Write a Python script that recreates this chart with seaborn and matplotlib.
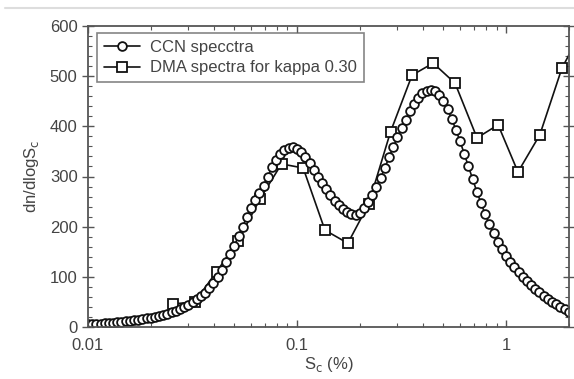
import numpy as np
import pandas as pd
import seaborn as sns
import matplotlib.pyplot as plt
from matplotlib.lines import Line2D
from matplotlib.ticker import FixedLocator, LogLocator, MultipleLocator, NullFormatter

# CCN spectrum: log grid of 0.02 decades from 0.01 % to 2 %
mantissa = [1.000, 1.047, 1.096, 1.148, 1.202, 1.259, 1.318, 1.380, 1.445, 1.514,
            1.585, 1.660, 1.738, 1.820, 1.905, 1.995, 2.089, 2.188, 2.291, 2.399,
            2.512, 2.630, 2.754, 2.884, 3.020, 3.162, 3.311, 3.467, 3.631, 3.802,
            3.981, 4.169, 4.365, 4.571, 4.786, 5.012, 5.248, 5.495, 5.754, 6.026,
            6.310, 6.607, 6.918, 7.244, 7.586, 7.943, 8.318, 8.710, 9.120, 9.550]
ccn_s = [m * d for d in (0.01, 0.1) for m in mantissa] + [m for m in mantissa[:16]]
ccn_n = [5, 5, 6, 6, 7, 8, 8, 9, 10, 11,
         12, 13, 14, 15, 17, 18, 20, 22, 24, 26,
         29, 32, 36, 40, 44, 49, 55, 61, 68, 77,
         87, 100, 114, 129, 145, 162, 181, 200, 220, 238,
         253, 267, 282, 300, 318, 333, 345, 353, 357, 358,
         355, 348, 338, 326, 313, 300, 287, 275, 263, 252,
         243, 235, 229, 225, 224, 228, 237, 250, 264, 280,
         297, 317, 338, 358, 378, 396, 413, 430, 445, 457,
         466, 471, 473, 470, 462, 450, 434, 415, 393, 370,
         345, 320, 295, 270, 247, 225, 205, 187, 170, 155,
         142, 130, 119, 109, 100, 92, 84, 76, 69, 62,
         56, 50, 45, 40, 35, 30]

# DMA spectrum for kappa 0.30
dma_s = [0.0255, 0.0324, 0.0412, 0.0523, 0.0664, 0.0843, 0.107, 0.136, 0.175,
         0.22, 0.28, 0.355, 0.448, 0.57, 0.726, 0.916, 1.14, 1.45, 1.85, 2.3]
dma_n = [46, 50, 110, 172, 255, 325, 317, 193, 167,
         245, 389, 502, 526, 486, 377, 403, 309, 383, 516, 590]

ccn = pd.DataFrame({"S": ccn_s, "n": ccn_n})
dma = pd.DataFrame({"S": dma_s, "n": dma_n})

sns.set_style("ticks")
plt.rcParams["font.family"] = ["Liberation Sans", "DejaVu Sans"]
txt = "#444444"

fig = plt.figure(figsize=(5.74, 3.79), dpi=100)
ax = fig.add_axes([88 / 574, 1 - 327 / 379, 481 / 574, 301 / 379])

sns.lineplot(data=dma, x="S", y="n", ax=ax, color="#111111", lw=1.2,
             marker="s", markersize=7, markerfacecolor="white",
             markeredgecolor="#111111", markeredgewidth=1.3,
             label="DMA spectra for kappa 0.30", sort=False)
sns.lineplot(data=ccn, x="S", y="n", ax=ax, color="#111111", lw=1.2,
             marker="o", markersize=6.3, markerfacecolor="white",
             markeredgecolor="#111111", markeredgewidth=1.3,
             label="CCN specctra", sort=False)

ax.set_xscale("log")
ax.set_xlim(0.01, 2.0)
ax.set_ylim(0, 600)
ax.xaxis.set_major_locator(FixedLocator([0.01, 0.1, 1]))
ax.set_xticklabels(["0.01", "0.1", "1"])
ax.xaxis.set_minor_locator(LogLocator(base=10, subs=np.arange(2, 10)))
ax.xaxis.set_minor_formatter(NullFormatter())
ax.yaxis.set_major_locator(MultipleLocator(100))
ax.yaxis.set_minor_locator(MultipleLocator(20))

ax.tick_params(which="major", axis="x", direction="in", length=5, width=1,
               top=True, labelsize=12, labelcolor=txt, color="#555555", pad=8)
ax.tick_params(which="major", axis="y", direction="inout", length=8, width=1,
               right=True, labelsize=12, labelcolor=txt, color="#555555")
ax.tick_params(which="minor", direction="in", length=3, width=0.8,
               top=True, right=True, color="#555555")
for sp in ax.spines.values():
    sp.set_color("#555555")
    sp.set_linewidth(1.3)

ax.set_xlabel("S$_\\mathrm{c}$ (%)", fontsize=12, color=txt, labelpad=1)
ax.set_ylabel("dn/dlogS$_\\mathrm{c}$", fontsize=12, color=txt, labelpad=6)

h, l = ax.get_legend_handles_labels()
leg = ax.legend(h[::-1], l[::-1], loc="upper left", bbox_to_anchor=(0.019, 0.977),
                borderaxespad=0, fontsize=12, fancybox=False, handlelength=2.2,
                handletextpad=0.6, labelspacing=0.35, borderpad=0.4)
leg.get_frame().set_edgecolor("#666666")
leg.get_frame().set_linewidth(1.2)
for t in leg.get_texts():
    t.set_color(txt)

fig.add_artist(Line2D([5 / 574, 1], [1 - 8 / 379, 1 - 8 / 379],
                      color="#dddddd", lw=1.5))

fig.savefig("out.png", dpi=100)
